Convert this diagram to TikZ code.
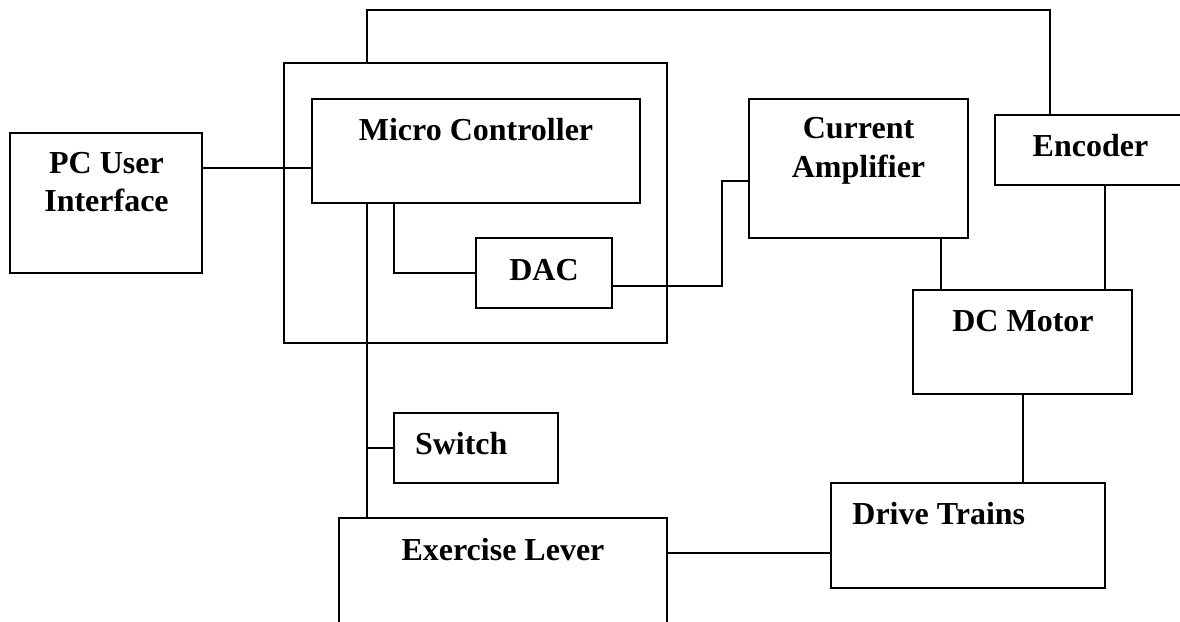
\documentclass[tikz,border=0pt]{standalone}
\usepackage{fontspec}
\setmainfont{Liberation Serif}
\usetikzlibrary{fit}
\begin{document}
\begin{tikzpicture}[x=0.5pt,y=-0.5pt,
  blk/.style={draw=black,line width=1pt,inner sep=0pt,rectangle},
  wire/.style={draw=black,line width=1pt},
  txt/.style={font=\fontsize{16}{18.5}\selectfont\bfseries,inner sep=0pt,anchor=base}]
\useasboundingbox (0,0) rectangle (1180,622);
\clip (0,0) rectangle (1180,622);
% boxes
\node[blk,fit={(10,133) (202,273)}] (pc) {};
\node[blk,fit={(284,63) (667,343)}] (outer) {};
\node[blk,fit={(312,99) (640,203)}] (mc) {};
\node[blk,fit={(476,238) (612,308)}] (dac) {};
\node[blk,fit={(749,99) (968,238)}] (ca) {};
\node[blk,fit={(995,115) (1190,185)}] (enc) {};
\node[blk,fit={(913,290) (1132,394)}] (dcm) {};
\node[blk,fit={(831,483) (1105,588)}] (dt) {};
\node[blk,fit={(393.5,413) (558,483)}] (sw) {};
\node[blk,fit={(339,518) (667,660)}] (el) {};
% texts
\node[txt] (pct1) at (106.5,173) {PC User};
\node[txt] (pct2) at (106.5,211) {Interface};
\node[txt] (mct) at (476,140) {Micro Controller};
\node[txt] (dact) at (544,280) {DAC};
\node[txt] (cat1) at (858.5,138) {Current};
\node[txt] (cat2) at (858.5,177) {Amplifier};
\node[txt] (enct) at (1090.5,156.5) {Encoder};
\node[txt] (dcmt) at (1023,331) {DC Motor};
\node[txt,anchor=base west] (dtt) at (852,524) {Drive Trains};
\node[txt,anchor=base west] (swt) at (414.6,454) {Switch};
\node[txt] (elt) at (503,560) {Exercise Lever};
% routing coordinates
\coordinate (yPC) at (0,168);
\coordinate (tl) at (367,10);
\coordinate (tr) at (1050,10);
\coordinate (xV) at (367,0);
\coordinate (dk) at (394,273);
\coordinate (w1) at (722,286);
\coordinate (w2) at (722,181);
\coordinate (xa) at (941,0);
\coordinate (xe) at (1105,0);
\coordinate (ye) at (0,553);
% connectors
\draw[wire] (pc.east |- yPC) -- (mc.west |- yPC);
\draw[wire] (outer.north -| tl) -- (tl) -- (tr) -- (enc.north -| tr);
\draw[wire] (mc.south -| xV) -- (el.north -| xV);
\draw[wire] (sw.west) -- (sw.west -| xV);
\draw[wire] (mc.south -| dk) -- (dk) -- (dac.west);
\draw[wire] (dac.east |- w1) -- (w1) -- (w2) -- (ca.west |- w2);
\draw[wire] (ca.south -| xa) -- (dcm.north -| xa);
\draw[wire] (enc.south -| xe) -- (dcm.north -| xe);
\draw[wire] (dcm.south) -- (dcm.south |- dt.north);
\draw[wire] (el.east |- ye) -- (dt.west |- ye);
\end{tikzpicture}
\end{document}
